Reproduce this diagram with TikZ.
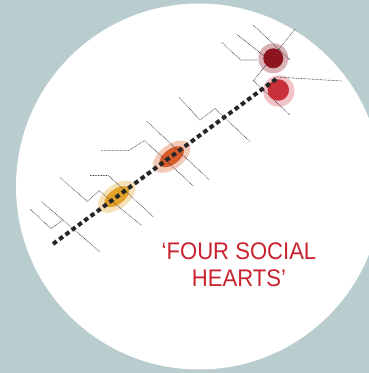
\documentclass[tikz,border=0pt]{standalone}
\usepackage{fontspec}
\newfontfamily\headfont[FakeStretch=0.92]{Liberation Sans}
\usetikzlibrary{shapes.geometric}
\definecolor{bgcol}{RGB}{185,204,206}
\definecolor{heartred}{RGB}{200,34,46}
\definecolor{yellowin}{RGB}{227,162,41}
\definecolor{yellowout}{RGB}{247,225,183}
\definecolor{orangein}{RGB}{214,90,42}
\definecolor{orangeout}{RGB}{243,201,184}
\definecolor{darkredin}{RGB}{140,21,32}
\definecolor{darkredout}{RGB}{217,179,183}
\definecolor{redin}{RGB}{201,48,58}
\definecolor{redout}{RGB}{242,196,199}
\definecolor{dotcol}{RGB}{60,60,60}
\tikzset{
  thinline/.style={draw=dotcol, line width=0.6pt, dash pattern=on 0.8pt off 0.8pt},
  spine/.style={draw=black!85, line width=4pt, dash pattern=on 4.6pt off 3.2pt},
  blob/.style={ellipse, draw=none, inner sep=0pt, rotate=36.7},
  disc/.style={circle, draw=none, inner sep=0pt},
}
\begin{document}
\begin{tikzpicture}[x=1pt,y=-1pt]
\useasboundingbox (0,0) rectangle (369,373);
\fill[bgcol] (0,0) rectangle (369,373);
\begin{scope}
\clip (0,0) rectangle (369,373);
\fill[white] (199,186.5) circle[radius=183];
\end{scope}
% halos
\node[blob, fill=yellowout, minimum width=43pt, minimum height=24pt] (yhalo) at (116.7,196.7) {};
\node[blob, fill=orangeout, minimum width=43pt, minimum height=24pt] (ohalo) at (171.7,156.7) {};
\node[disc, fill=darkredout, minimum size=30pt] (dhalo) at (273.3,58.3) {};
\node[disc, fill=redout, minimum size=31.5pt] (rhalo) at (278.8,91) {};
% inner discs
\node[blob, fill=yellowin, minimum width=29pt, minimum height=15pt] (yheart) at (116.7,196.7) {};
\node[blob, fill=orangein, minimum width=29pt, minimum height=15pt] (oheart) at (171.7,156.7) {};
% thin dotted lines
\coordinate (a1) at (30,209); \coordinate (a2) at (51,228.5); \coordinate (a3) at (63.3,220);
\coordinate (b1) at (41.7,201.7); \coordinate (b2) at (100,252);
\coordinate (c1) at (60,177.5); \coordinate (c2) at (87.5,201.5); \coordinate (c3) at (99,190.5);
\coordinate (d2) at (141.5,225.3);
\coordinate (e1) at (90,175.5); \coordinate (e2) at (108.3,175.5); \coordinate (e3) at (153.3,216.7);
\coordinate (f1) at (101,150.3); \coordinate (f2) at (129,150.3); \coordinate (f3) at (144.5,140.5); \coordinate (f4) at (193.3,186);
\coordinate (g1) at (146.5,121); \coordinate (g2) at (209.5,180);
\coordinate (h1) at (179.3,97.5); \coordinate (h2) at (200,120); \coordinate (h3) at (215,108.5); \coordinate (h4) at (250,141.7);
\coordinate (i1) at (253.3,25); \coordinate (i2) at (290,60);
\coordinate (j1) at (236.7,34.3); \coordinate (j2) at (272,62);
\coordinate (k1) at (221.7,42.3); \coordinate (k2) at (240.7,60); \coordinate (k3) at (257,60);
\coordinate (l1) at (295,29.3); \coordinate (l2) at (253.3,80.7); \coordinate (l3) at (290,115);
\coordinate (m1) at (277,77); \coordinate (m2) at (341.7,81);
\draw[thinline] (a1) -- (a2) -- (a3);
\draw[thinline] (b1) -- (b2);
\draw[thinline] (c1) -- (c2) -- (c3) -- (d2);
\draw[thinline] (e1) -- (e2) -- (e3);
\draw[thinline] (f1) -- (f2) -- (f3) -- (f4);
\draw[thinline] (g1) -- (g2);
\draw[thinline] (h1) -- (h2) -- (h3) -- (h4);
\draw[thinline] (i1) -- (i2);
\draw[thinline] (j1) -- (j2);
\draw[thinline] (k1) -- (k2) -- (k3);
\draw[thinline] (l1) -- (l2) -- (l3);
\draw[thinline] (m1) -- (m2);
% circle hearts
\node[disc, fill=darkredin, minimum size=20pt] (dheart) at (273.3,58.3) {};
\node[disc, fill=redin, minimum size=21.5pt] (rheart) at (278.3,90) {};
% spine
\coordinate (s1) at (53,244);
\coordinate (s2) at (278.3,77.3);
\draw[spine] (s1) -- (s2);
% title
\node[font=\headfont\fontsize{24}{26.7}\selectfont, text=heartred, align=center, inner sep=0pt] (title) at (239,265) {‘FOUR SOCIAL\\HEARTS’};
\end{tikzpicture}
\end{document}
